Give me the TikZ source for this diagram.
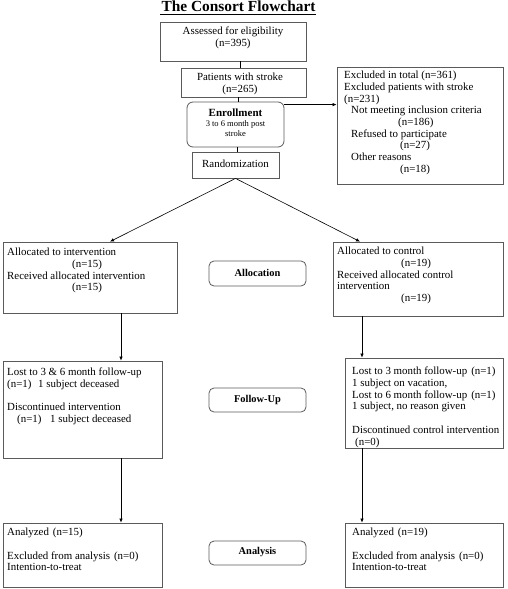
\documentclass[tikz,border=0pt]{standalone}
\usepackage{fontspec}
\setmainfont{Liberation Serif}
\usetikzlibrary{arrows.meta,calc}
\newcommand\fs{\fontsize{10.9}{11.7}\selectfont}
\newcommand\fsmall{\fontsize{8.5}{10}\selectfont}
\definecolor{boxgray}{RGB}{90,90,90}
\begin{document}
\begin{tikzpicture}[x=1pt,y=-1pt,
  box/.style={draw=boxgray,line width=0.8pt,inner sep=0pt},
  rbox/.style={box,rounded corners=6pt},
  txt/.style={anchor=north west,inner sep=0pt,align=left,font=\fs},
  ctxt/.style={anchor=north,inner sep=0pt,align=center,font=\fs},
  lbl/.style={inner sep=0pt,font=\fontsize{10.4}{11}\selectfont\bfseries},
  arr/.style={draw=black,line width=0.6pt,-{Latex[length=4pt,width=3.5pt]}},
  ln/.style={draw=black,line width=0.6pt}]
\useasboundingbox (0,0) rectangle (507,589);
% title
\node[inner sep=0pt,font=\fontsize{15.4}{17}\selectfont\bfseries] (title) at (238.5,6) {The Consort Flowchart};
\draw[line width=1.6pt] (160,14.5) -- (316,14.5);
% top column
\node[box,minimum width=146,minimum height=39] (assess) at (233,41.5) {};
\node[ctxt] (assessT) at (233,27) {Assessed for eligibility\\(n=395)};
\node[box,minimum width=125,minimum height=29] (pat) at (243.5,82.5) {};
\node[ctxt] (patT) at (240,73) {Patients with stroke\\(n=265)};
\node[rbox,minimum width=97,minimum height=45] (enr) at (235.5,124.5) {};
\node[ctxt,font=\fsmall] (enrT) at (235.5,109) {{\fontsize{11}{11}\selectfont\bfseries Enrollment}\\3 to 6 month post\\stroke};
\node[box,minimum width=87,minimum height=26] (rand) at (235.5,165) {};
\node[inner sep=0pt,font=\fs] (randT) at (235.5,164) {Randomization};
\draw[ln] (assess.south -| 240,0) -- (pat.north -| 240,0);
\draw[ln] (pat.south -| 238,0) -- (enr.north -| 238,0);
\draw[ln] (enr.south -| 237,0) -- (rand.north -| 237,0);
% exclusion
\node[box,minimum width=166,minimum height=117] (excl) at (420,125.5) {};
\node[txt] (exclT) at (344,71) {Excluded in total (n=361)\\Excluded patients with stroke\\(n=231)\\
\hspace*{7pt}Not meeting inclusion criteria\\\hspace*{54pt}(n=186)\\
\hspace*{7pt}Refused to participate\\\hspace*{56pt}(n=27)\\
\hspace*{7pt}Other reasons\\\hspace*{56pt}(n=18)};
\coordinate (ea) at ($(enr.north east)+(0,3)$);
\draw[arr] (ea) -- (ea -| excl.west);
% allocation
\node[box,minimum width=174,minimum height=71] (alL) at (90,277.5) {};
\node[txt] (alLT) at (7,248) {Allocated to intervention\\\hspace*{65pt}(n=15)\\Received allocated intervention\\\hspace*{65pt}(n=15)};
\node[box,minimum width=170,minimum height=74] (alR) at (418,279) {};
\node[txt] (alRT) at (337,247) {Allocated to control\\\hspace*{64pt}(n=19)\\Received allocated control\\intervention\\\hspace*{64pt}(n=19)};
\node[rbox,rounded corners=5pt,minimum width=97,minimum height=25] (alLab) at (257.5,273.5) {};
\node[lbl] (alLabT) at (257.5,273) {Allocation};
\coordinate (tipL) at ($(alL.north)+(20,0)$);
\coordinate (tipR) at ($(alR.north)+(-58,0)$);
\draw[arr] (rand.south) -- (tipL);
\draw[arr] (rand.south) -- (tipR);
% follow-up
\node[box,minimum width=159,minimum height=97] (fuL) at (82.5,409.5) {};
\node[txt] (fuLT) at (7,368) {Lost to 3 \& 6 month follow-up\\(n=1)\hspace{4pt} 1 subject deceased\\[11.7pt]Discontinued intervention\\\hspace*{10pt}(n=1)\hspace{6pt} 1 subject deceased};
\node[box,minimum width=158,minimum height=90] (fuR) at (424,403) {};
\node[txt] (fuRT) at (352,367) {Lost to 3 month follow-up\hspace{4pt}(n=1)\\1 subject on vacation,\\Lost to 6 month follow-up\hspace{4pt}(n=1)\\1 subject, no reason given\\[11.7pt]Discontinued control intervention\\\hspace*{3pt}(n=0)};
\node[rbox,rounded corners=5pt,minimum width=97,minimum height=24] (fuLab) at (257.5,400) {};
\node[lbl] (fuLabT) at (257.5,399.5) {Follow-Up};
\draw[arr] (alL.south -| 121,0) -- (fuL.north -| 121,0);
\draw[arr] (alR.south -| 362,0) -- (fuR.north -| 362,0);
% analysis
\node[box,minimum width=159,minimum height=64] (anL) at (82.5,555) {};
\node[txt] (anLT) at (7,528) {Analyzed\hspace{4pt}(n=15)\\[11.7pt]Excluded from analysis\hspace{4pt}(n=0)\\Intention-to-treat};
\node[box,minimum width=158,minimum height=64] (anR) at (424,555) {};
\node[txt] (anRT) at (352,528) {Analyzed\hspace{4pt}(n=19)\\[11.7pt]Excluded from analysis\hspace{4pt}(n=0)\\Intention-to-treat};
\node[rbox,rounded corners=5pt,minimum width=97,minimum height=24] (anLab) at (257.5,553) {};
\node[lbl] (anLabT) at (257.5,552.5) {Analysis};
\draw[arr] (fuL.south -| 121,0) -- (anL.north -| 121,0);
\draw[arr] (fuR.south -| 362,0) -- (anR.north -| 362,0);
\end{tikzpicture}
\end{document}
